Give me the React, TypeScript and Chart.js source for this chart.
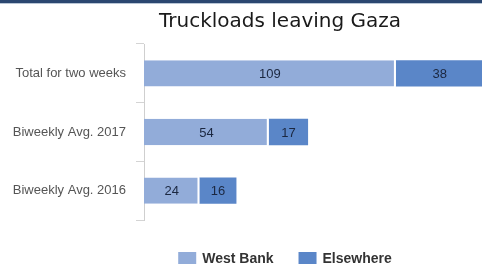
import React, { useEffect, useRef } from "react";
import { Chart, registerables } from "chart.js";

Chart.register(...registerables);

const categories = ["Total for two weeks", "Biweekly Avg. 2017", "Biweekly Avg. 2016"];
const westBank = [109, 54, 24];
const elsewhere = [38, 17, 16];
const seriesNames = ["West Bank", "Elsewhere"];
const seriesColors = ["#92acd9", "#5a86c8"];
const titleText = "Truckloads leaving Gaza";
const xMax = 180;

const valueLabels = {
  id: "valueLabels",
  afterDatasetsDraw(chart: any) {
    const ctx = chart.ctx;
    ctx.save();
    ctx.font = "13px 'Liberation Sans', Arial, sans-serif";
    ctx.fillStyle = "#1b2740";
    ctx.textAlign = "center";
    ctx.textBaseline = "middle";
    chart.data.datasets.forEach((ds: any, i: number) => {
      const meta = chart.getDatasetMeta(i);
      meta.data.forEach((el: any, j: number) => {
        const p = el.getProps(["x", "y", "base"], true);
        ctx.fillText(String(ds.data[j]), (p.x + p.base) / 2, p.y + 1);
      });
    });
    ctx.restore();
  },
};

const customLegend = {
  id: "customLegend",
  afterDraw(chart: any) {
    const ctx = chart.ctx;
    ctx.save();
    ctx.font = "bold 14px 'Liberation Sans', Arial, sans-serif";
    const boxW = 18;
    const boxH = 12;
    const gap = 6;
    const spacing = 25;
    const items = chart.data.datasets.map((ds: any) => ({
      text: ds.label,
      color: ds.backgroundColor,
      w: ctx.measureText(ds.label).width,
    }));
    const total =
      items.reduce((s: number, it: any) => s + boxW + gap + it.w, 0) + spacing * (items.length - 1);
    let x = chart.width / 2 + 5 - total / 2;
    const y = chart.chartArea.bottom + 38;
    ctx.textBaseline = "middle";
    ctx.textAlign = "left";
    items.forEach((it: any) => {
      ctx.fillStyle = it.color;
      ctx.fillRect(x, y - boxH / 2, boxW, boxH);
      x += boxW + gap;
      ctx.fillStyle = "#333333";
      ctx.fillText(it.text, x, y + 1);
      x += it.w + spacing;
    });
    ctx.restore();
  },
};

export default function App() {
  const canvasRef = useRef<HTMLCanvasElement | null>(null);

  useEffect(() => {
    document.body.style.margin = "0";
    const canvas = canvasRef.current;
    if (!canvas) return;
    const chart = new Chart(canvas, {
      type: "bar",
      data: {
        labels: categories,
        datasets: [
          {
            label: seriesNames[0],
            data: westBank,
            backgroundColor: seriesColors[0],
            borderColor: "#ffffff",
            borderWidth: { top: 0, right: 2, bottom: 0, left: 0 },
            borderSkipped: false,
            barPercentage: 0.9,
            categoryPercentage: 0.5,
          },
          {
            label: seriesNames[1],
            data: elsewhere,
            backgroundColor: seriesColors[1],
            borderWidth: 0,
            barPercentage: 0.9,
            categoryPercentage: 0.5,
          },
        ],
      },
      options: {
        indexAxis: "y",
        responsive: false,
        animation: false,
        events: [],
        layout: { padding: { left: 0, right: 0, top: 0, bottom: 47 } },
        plugins: {
          legend: { display: false },
          tooltip: { enabled: false },
          title: {
            display: true,
            text: titleText,
            color: "#1a1a1a",
            font: { family: "'DejaVu Sans', sans-serif", size: 20, weight: "normal" },
            padding: { top: 6, bottom: 10 },
          },
        },
        scales: {
          x: { stacked: true, display: false, min: 0, max: xMax },
          y: {
            stacked: true,
            grid: {
              display: true,
              drawOnChartArea: false,
              drawTicks: true,
              tickLength: 8,
              color: "#d4d4d4",
              offset: true,
            },
            border: { display: true, color: "#cfcfcf" },
            ticks: {
              padding: 10,
              color: "#555555",
              font: { family: "'Liberation Sans', Arial, sans-serif", size: 13 },
            },
            afterFit: (s: any) => {
              s.width = 144;
            },
          },
        },
      },
      plugins: [valueLabels, customLegend],
    } as any);
    return () => chart.destroy();
  }, []);

  return (
    <div style={{ width: 482, height: 267, overflow: "hidden", position: "relative", background: "#fff" }}>
      <div style={{ height: 3, background: "#2b4770" }} />
      <div style={{ height: 1, background: "#b9c6d6" }} />
      <canvas ref={canvasRef} width={560} height={263} style={{ display: "block" }} />
    </div>
  );
}
